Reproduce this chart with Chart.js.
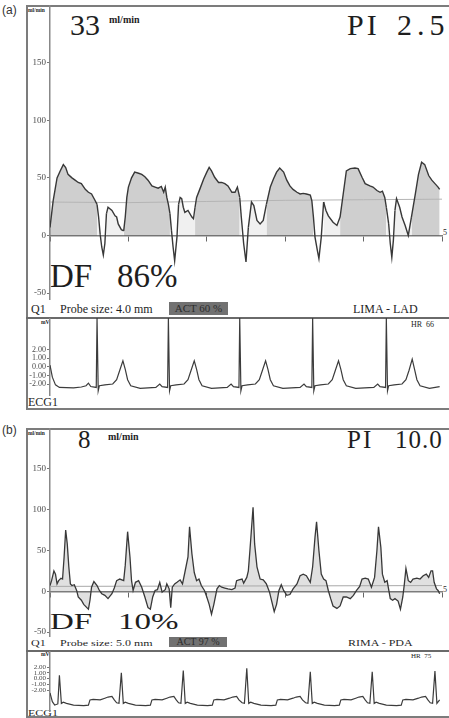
<!DOCTYPE html>
<html lang="en">
<head>
<meta charset="UTF-8">
<title>Graft flow - LIMA-LAD / RIMA-PDA</title>
<script src="https://cdn.jsdelivr.net/npm/chart.js"></script>
<style>
  body {
    margin: 0;
    width: 449px;
    height: 718px;
    position: relative;
    overflow: hidden;
    background: #fff;
    font-family: "Liberation Serif", "DejaVu Serif", serif;
    color: #1e1e1e;
  }
  .abs { position: absolute; white-space: nowrap; line-height: 1; }
  .box { position: absolute; box-sizing: border-box; border: 2px solid #7c7c7c; }
  .rule { position: absolute; height: 2px; background: #6a6a6a; }
  canvas { position: absolute; }
  .tag { font-family: "Liberation Sans", Arial, sans-serif; font-size: 12px; color: #333; }
  .unit { font-size: 5.5px; font-weight: bold; }
  .big { font-size: 30px; }
  .df { font-size: 33px; }
  .small { font-size: 12px; }
  .act { background: #717171; color: #2c2c2c; font-size: 11px; text-align: center; }
  .sq { transform-origin: 0 0; transform: scaleY(0.72); }
  .sq2 { transform-origin: 0 0; transform: scaleY(0.75); }
</style>
</head>
<body>
  <!-- panel (a) -->
  <div class="abs tag" style="left:2px; top:4px;">(a)</div>
  <div class="box" style="left:26px; top:5px; width:430px; height:405px;"></div>
  <div class="rule" style="left:26px; top:317px; width:430px;"></div>
  <div class="abs unit" style="left:28px; top:8px;">ml/min</div>
  <div class="abs big" style="left:70px; top:10px;">33</div>
  <div class="abs" style="left:109px; top:15px; font-size:10px; font-weight:bold;">ml/min</div>
  <div class="abs big" style="left:347px; top:10px; letter-spacing:3px;">PI</div>
  <div class="abs big" style="left:397px; top:10px; letter-spacing:5px;">2.5</div>
  <div class="abs df" style="left:50px; top:260px;">DF</div>
  <div class="abs df" style="left:117px; top:260px;">86%</div>
  <div class="abs" style="left:443px; top:229px; font-size:8px;">5</div>
  <div class="abs small" style="left:31px; top:303px;">Q1</div>
  <div class="abs small" style="left:60px; top:303px;">Probe size: 4.0 mm</div>
  <div class="abs act" style="left:169px; top:302px; width:59px; height:13px; line-height:13px;">ACT 60 %</div>
  <div class="abs small" style="left:353px; top:303px;">LIMA - LAD</div>
  <div class="abs unit" style="left:41px; top:320px;">mV</div>
  <div class="abs" style="left:411px; top:321px; font-size:8px;">HR&nbsp;&nbsp;66</div>
  <div class="abs small" style="left:28px; top:396px;">ECG1</div>

  <!-- panel (b) -->
  <div class="abs tag" style="left:2px; top:424px;">(b)</div>
  <div class="box" style="left:26px; top:428px; width:430px; height:290px;"></div>
  <div class="rule" style="left:26px; top:650px; width:430px;"></div>
  <div class="abs unit" style="left:28px; top:431px;">ml/min</div>
  <div class="abs" style="left:78px; top:427px; font-size:25px;">8</div>
  <div class="abs" style="left:108px; top:432px; font-size:10px; font-weight:bold;">ml/min</div>
  <div class="abs" style="left:347px; top:427px; font-size:25px; letter-spacing:2px;">PI</div>
  <div class="abs" style="left:395px; top:427px; font-size:25px; letter-spacing:1px;">10.0</div>
  <div class="abs df sq" style="left:50px; top:610px;">DF</div>
  <div class="abs df sq" style="left:118px; top:610px;">10%</div>
  <div class="abs" style="left:443px; top:586px; font-size:8px;">5</div>
  <div class="abs small sq2" style="left:31px; top:638px;">Q1</div>
  <div class="abs small sq2" style="left:60px; top:638px;">Probe size: 5.0 mm</div>
  <div class="abs act" style="left:169px; top:637px; width:58px; height:10px; line-height:10px; font-size:10px;">ACT 97 %</div>
  <div class="abs small sq2" style="left:348px; top:638px;">RIMA - PDA</div>
  <div class="abs unit" style="left:41px; top:652px;">mV</div>
  <div class="abs" style="left:411px; top:653px; font-size:7px;">HR&nbsp;&nbsp;75</div>
  <div class="abs small sq2" style="left:28px; top:708px;">ECG1</div>

  <canvas id="flowA" width="423" height="295" style="left:26px; top:5px;"></canvas>
  <canvas id="ecgA" width="423" height="78" style="left:26px; top:318px;"></canvas>
  <canvas id="flowB" width="423" height="209" style="left:26px; top:428px;"></canvas>
  <canvas id="ecgB" width="423" height="61" style="left:26px; top:651px;"></canvas>

<script>
// time in s, flow in ml/min
const flowA = [
  [0.00, 7], [0.04, 30], [0.09, 50], [0.13, 56], [0.17, 61.5], [0.20, 59], [0.23, 53], [0.28, 50],
  [0.32, 48], [0.36, 46], [0.40, 45], [0.45, 40], [0.49, 37.5], [0.53, 36], [0.57, 31], [0.60, 27],
  [0.62, 16], [0.64, 1], [0.66, -10], [0.68, -17], [0.70, -7], [0.72, 19], [0.74, 24.5], [0.79, 21.7],
  [0.83, 17], [0.85, 16], [0.87, 10], [0.91, 5], [0.94, 4], [0.96, 16], [0.98, 33], [1.00, 42],
  [1.04, 50], [1.08, 55], [1.13, 54], [1.17, 53], [1.21, 51], [1.25, 48], [1.30, 43], [1.34, 42],
  [1.38, 41], [1.42, 42.5], [1.45, 37.5], [1.47, 42], [1.49, 33], [1.51, 27], [1.53, 19], [1.55, 4],
  [1.57, -10], [1.59, -22], [1.62, -1], [1.64, 27], [1.66, 33], [1.68, 32], [1.70, 24.5], [1.72, 20],
  [1.76, 21.7], [1.81, 16], [1.83, 14.5], [1.85, 24.5], [1.87, 33], [1.91, 40], [1.96, 49], [2.00, 55],
  [2.03, 59], [2.06, 56], [2.10, 50.5], [2.15, 46], [2.19, 46], [2.23, 45], [2.27, 43], [2.32, 37.5],
  [2.36, 37.5], [2.39, 42], [2.42, 33], [2.44, 16], [2.47, -7], [2.50, -23], [2.53, 7], [2.57, 29],
  [2.60, 26], [2.64, 13], [2.68, 10], [2.72, 13], [2.76, 27], [2.81, 42], [2.85, 49], [2.89, 55],
  [2.93, 58.5], [2.98, 55], [3.02, 48], [3.06, 43], [3.10, 40], [3.15, 37.5], [3.19, 36], [3.23, 36.5],
  [3.27, 36], [3.32, 35], [3.34, 30], [3.36, 16], [3.38, -1.4], [3.41, -13], [3.43, -20], [3.46, -1.4],
  [3.49, 29], [3.52, 21.7], [3.55, 17], [3.61, 11.5], [3.66, 8.7], [3.70, 16], [3.74, 36], [3.78, 56],
  [3.83, 58], [3.89, 58.5], [3.93, 58], [3.98, 50.5], [4.02, 45], [4.08, 43], [4.12, 42], [4.17, 39],
  [4.21, 37.5], [4.24, 38.5], [4.27, 33], [4.29, 24.5], [4.32, 10], [4.34, -7], [4.36, -19], [4.38, -4],
  [4.40, 21.7], [4.42, 32], [4.46, 24.5], [4.49, 16], [4.53, 8.7], [4.57, 0], [4.61, 16], [4.66, 36],
  [4.70, 53], [4.74, 63.5], [4.78, 61.5], [4.83, 52], [4.87, 48], [4.91, 45], [4.95, 42], [4.97, 40]
];
const meanA = [[0, 29], [1, 28.5], [2, 29.5], [3, 30.5], [4, 31], [5, 31.5]];
// diastolic windows (s), shaded darker
const diastoleA = [[0, 0.60], [0.93, 1.53], [1.85, 2.42], [2.76, 3.35], [3.67, 4.28], [4.58, 5]];

const flowB = [
  [0.00, 7], [0.02, 13], [0.05, 25], [0.07, 21], [0.09, 9], [0.11, 13], [0.14, 16], [0.16, 15],
  [0.18, 42], [0.20, 75], [0.22, 58], [0.24, 30], [0.26, 9], [0.28, 7], [0.31, 8], [0.34, 1],
  [0.36, -7], [0.40, -11], [0.43, -16], [0.47, -20], [0.49, -22], [0.51, -11], [0.53, 5], [0.56, 12],
  [0.60, 7], [0.63, 1], [0.66, -3], [0.70, -5], [0.74, -9], [0.79, -3], [0.82, 4], [0.85, 13],
  [0.89, 15], [0.94, 13], [0.96, 32], [0.99, 73], [1.02, 42], [1.04, 13], [1.06, 1], [1.09, 11],
  [1.13, 13], [1.17, 5], [1.21, -7], [1.25, -20], [1.28, -22], [1.31, -7], [1.34, 1], [1.37, 2],
  [1.40, 11], [1.43, -1], [1.47, 2], [1.49, 9], [1.52, 3], [1.54, -20], [1.56, 5], [1.59, 9],
  [1.62, 11], [1.66, 14], [1.69, 9], [1.72, 23], [1.76, 42], [1.78, 79], [1.81, 46], [1.84, 23],
  [1.87, 13], [1.90, 15], [1.93, 7], [1.97, 1], [2.00, -7], [2.03, -16], [2.06, -28], [2.09, -16],
  [2.13, 3], [2.16, 7], [2.19, 5], [2.23, 4], [2.27, 3], [2.32, 2], [2.36, 4], [2.38, 13],
  [2.41, 14], [2.45, 15], [2.47, 10], [2.51, 17], [2.53, 25], [2.55, 50], [2.59, 103], [2.61, 58],
  [2.64, 30], [2.68, 15], [2.72, 14], [2.76, 9], [2.80, -1], [2.83, -13], [2.86, -25], [2.89, -16],
  [2.92, 1], [2.95, 8], [2.98, 1], [3.02, -5], [3.06, -4], [3.10, 3], [3.15, 9], [3.19, 19],
  [3.23, 21], [3.27, 19], [3.32, 11], [3.35, 30], [3.38, 66], [3.40, 85], [3.43, 50], [3.46, 21],
  [3.49, 15], [3.52, 13], [3.55, 1], [3.58, -9], [3.61, -18], [3.66, -21], [3.70, -18], [3.74, -7],
  [3.78, -7], [3.83, -9], [3.87, -5], [3.91, 1], [3.95, 6], [3.98, 15], [4.02, 16], [4.06, 15],
  [4.10, 5], [4.14, 17], [4.17, 50], [4.19, 79], [4.22, 54], [4.24, 21], [4.27, 11], [4.30, 13],
  [4.34, -9], [4.37, -11], [4.40, -9], [4.44, -12], [4.47, -22], [4.50, -7], [4.52, 9], [4.54, 28],
  [4.57, 13], [4.60, 11], [4.63, 15], [4.68, 16], [4.72, 15], [4.76, 19], [4.80, 21], [4.83, 17],
  [4.86, 25], [4.88, 25], [4.90, 11], [4.93, 3], [4.95, 1], [4.97, -3]
];
const meanB = [[0, 6], [2.5, 6.5], [5, 7]];

// time in s, mV
const ecgA = [
  [0.00, 0.2], [0.03, -1.2], [0.07, -2.1], [0.12, -2.4], [0.30, -2.45], [0.40, -2.35], [0.46, -2.2],
  [0.49, -1.9], [0.52, -2.3], [0.59, -2.4],
  [0.60, 5.7], [0.615, -2.8], [0.63, -2.2], [0.70, -2.1], [0.80, -2.0], [0.85, -1.5], [0.89, -0.4],
  [0.93, 0.7], [0.96, -0.3], [0.99, -1.5], [1.03, -2.2], [1.15, -2.5], [1.35, -2.4], [1.40, -2.0],
  [1.43, -2.3], [1.50, -2.4],
  [1.51, 5.7], [1.525, -2.8], [1.54, -2.2], [1.61, -2.1], [1.71, -2.0], [1.76, -1.5], [1.80, -0.4],
  [1.84, 0.7], [1.87, -0.3], [1.90, -1.5], [1.94, -2.2], [2.06, -2.5], [2.26, -2.4], [2.31, -2.0],
  [2.34, -2.3], [2.41, -2.4],
  [2.42, 5.7], [2.435, -2.8], [2.45, -2.2], [2.52, -2.1], [2.62, -2.0], [2.67, -1.5], [2.71, -0.4],
  [2.75, 0.7], [2.78, -0.3], [2.81, -1.5], [2.85, -2.2], [2.97, -2.5], [3.19, -2.4], [3.24, -2.0],
  [3.27, -2.3], [3.34, -2.4],
  [3.35, 5.7], [3.365, -2.8], [3.38, -2.2], [3.45, -2.1], [3.55, -2.0], [3.60, -1.5], [3.64, -0.4],
  [3.68, 0.7], [3.71, -0.3], [3.74, -1.5], [3.78, -2.2], [3.90, -2.5], [4.13, -2.4], [4.18, -2.0],
  [4.21, -2.3], [4.28, -2.4],
  [4.29, 5.7], [4.305, -2.8], [4.32, -2.2], [4.39, -2.1], [4.49, -2.0], [4.54, -1.5], [4.58, -0.4],
  [4.62, 0.9], [4.65, -0.3], [4.68, -1.5], [4.72, -2.2], [4.84, -2.5], [4.97, -2.3]
];
const ecgB = [
  [0.00, -2.5], [0.03, -4.0], [0.06, -4.6], [0.10, -4.4],
  [0.12, 0.6], [0.145, -4.3], [0.17, -4.1], [0.21, -4.3], [0.30, -4.6], [0.43, -4.7], [0.49, -4.6],
  [0.51, -3.7], [0.55, -3.6], [0.64, -3.7], [0.70, -3.4], [0.74, -3.2], [0.79, -3.1], [0.82, -3.7],
  [0.85, -4.2], [0.88, -4.3],
  [0.91, 1.0], [0.935, -4.3], [0.96, -4.1], [1.00, -4.3], [1.09, -4.6], [1.22, -4.7], [1.28, -4.6],
  [1.30, -3.7], [1.34, -3.6], [1.43, -3.7], [1.49, -3.4], [1.53, -3.2], [1.58, -3.1], [1.61, -3.7],
  [1.64, -4.2], [1.67, -4.3],
  [1.70, 1.4], [1.725, -4.3], [1.75, -4.1], [1.79, -4.3], [1.88, -4.6], [2.01, -4.7], [2.07, -4.6],
  [2.09, -3.7], [2.13, -3.6], [2.22, -3.7], [2.29, -3.4], [2.33, -3.2], [2.38, -3.1], [2.41, -3.7],
  [2.45, -4.2], [2.48, -4.3],
  [2.51, 1.8], [2.535, -4.3], [2.56, -4.1], [2.60, -4.3], [2.69, -4.6], [2.82, -4.7], [2.88, -4.6],
  [2.90, -3.7], [2.94, -3.6], [3.03, -3.7], [3.10, -3.4], [3.14, -3.2], [3.19, -3.1], [3.22, -3.7],
  [3.26, -4.2], [3.29, -4.3],
  [3.32, 1.2], [3.345, -4.3], [3.37, -4.1], [3.41, -4.3], [3.50, -4.6], [3.63, -4.7], [3.69, -4.6],
  [3.71, -3.7], [3.75, -3.6], [3.84, -3.7], [3.90, -3.4], [3.94, -3.2], [3.99, -3.1], [4.02, -3.7],
  [4.05, -4.2], [4.08, -4.3],
  [4.11, 1.2], [4.135, -4.3], [4.16, -4.1], [4.20, -4.3], [4.29, -4.6], [4.42, -4.7], [4.48, -4.6],
  [4.50, -3.7], [4.54, -3.6], [4.63, -3.7], [4.70, -3.4], [4.74, -3.2], [4.79, -3.1], [4.82, -3.7],
  [4.85, -4.2], [4.88, -4.3],
  [4.91, 1.3], [4.935, -4.3], [4.97, -3.7]
];

const flowTicks = [-50, 0, 50, 100, 150];
const ecgTicks = [-2, -1, 0, 1, 2];

const SERIF = '"Liberation Serif", "DejaVu Serif", serif';
const toXY = arr => arr.map(([x, y]) => ({ x, y }));

function leftAxis(min, max, keep, fmt, size) {
  return {
    min: min,
    max: max,
    afterBuildTicks: s => { s.ticks = keep.map(v => ({ value: v })); },
    afterFit: s => { s.width = 24; s.paddingTop = 0; s.paddingBottom = 0; },
    ticks: { autoSkip: false, padding: 1, color: '#4a4a4a', font: { family: SERIF, size: size }, callback: fmt },
    grid: { drawOnChartArea: false, tickLength: 3, color: '#777' },
    border: { color: '#888', width: 1.5 }
  };
}

function baseOptions(y, x) {
  return {
    responsive: false,
    animation: false,
    layout: { padding: { left: 0, right: 7, top: 0, bottom: 0 } },
    elements: { point: { radius: 0 }, line: { tension: 0 } },
    plugins: {
      legend: { display: false },
      tooltip: { enabled: false },
      filler: { drawTime: 'beforeDatasetsDraw' }
    },
    scales: { x: x, y: y }
  };
}

// time axis sitting on the zero-flow line, a tick every second
function zeroTimeAxis() {
  return {
    type: 'linear',
    min: 0,
    max: 5,
    position: { y: 0 },
    afterFit: s => { s.paddingLeft = 0; s.paddingRight = 0; },
    ticks: { stepSize: 1, display: false },
    grid: { drawOnChartArea: false, drawTicks: true, tickLength: 5, color: '#666' },
    border: { color: '#808080', width: 1.5 }
  };
}

function hiddenTimeAxis() {
  return { type: 'linear', min: 0, max: 5, display: false };
}

const shadeA = c => {
  if (c.p0.parsed.y < 0 || c.p1.parsed.y < 0) return 'rgba(0,0,0,0)';
  const t = c.p0.parsed.x;
  return diastoleA.some(w => t >= w[0] && t < w[1]) ? 'rgba(0,0,0,0.19)' : 'rgba(0,0,0,0.06)';
};

new Chart(document.getElementById('flowA'), {
  type: 'line',
  data: {
    datasets: [
      { data: toXY(flowA), borderColor: '#383838', borderWidth: 1.4, fill: 'origin',
        backgroundColor: 'rgba(0,0,0,0.06)', segment: { backgroundColor: shadeA } },
      { data: toXY(meanA), borderColor: '#b4b4b4', borderWidth: 1, fill: false }
    ]
  },
  options: baseOptions(leftAxis(-56, 200, flowTicks, v => String(v), 9), zeroTimeAxis())
});

new Chart(document.getElementById('ecgA'), {
  type: 'line',
  data: { datasets: [{ data: toXY(ecgA), borderColor: '#3c3c3c', borderWidth: 1.2, fill: false }] },
  options: baseOptions(leftAxis(-3.4, 5.7, ecgTicks, v => v.toFixed(2), 8), hiddenTimeAxis())
});

new Chart(document.getElementById('flowB'), {
  type: 'line',
  data: {
    datasets: [
      { data: toXY(flowB), borderColor: '#383838', borderWidth: 1.3, fill: 'origin',
        backgroundColor: 'rgba(0,0,0,0.12)' },
      { data: toXY(meanB), borderColor: '#a8a8a8', borderWidth: 1, fill: false }
    ]
  },
  options: baseOptions(leftAxis(-56, 200, flowTicks, v => String(v), 9), zeroTimeAxis())
});

new Chart(document.getElementById('ecgB'), {
  type: 'line',
  data: { datasets: [{ data: toXY(ecgB), borderColor: '#3c3c3c', borderWidth: 1.2, fill: false }] },
  options: baseOptions(leftAxis(-5.8, 4.8, ecgTicks, v => v.toFixed(2), 7), hiddenTimeAxis())
});
</script>
</body>
</html>
